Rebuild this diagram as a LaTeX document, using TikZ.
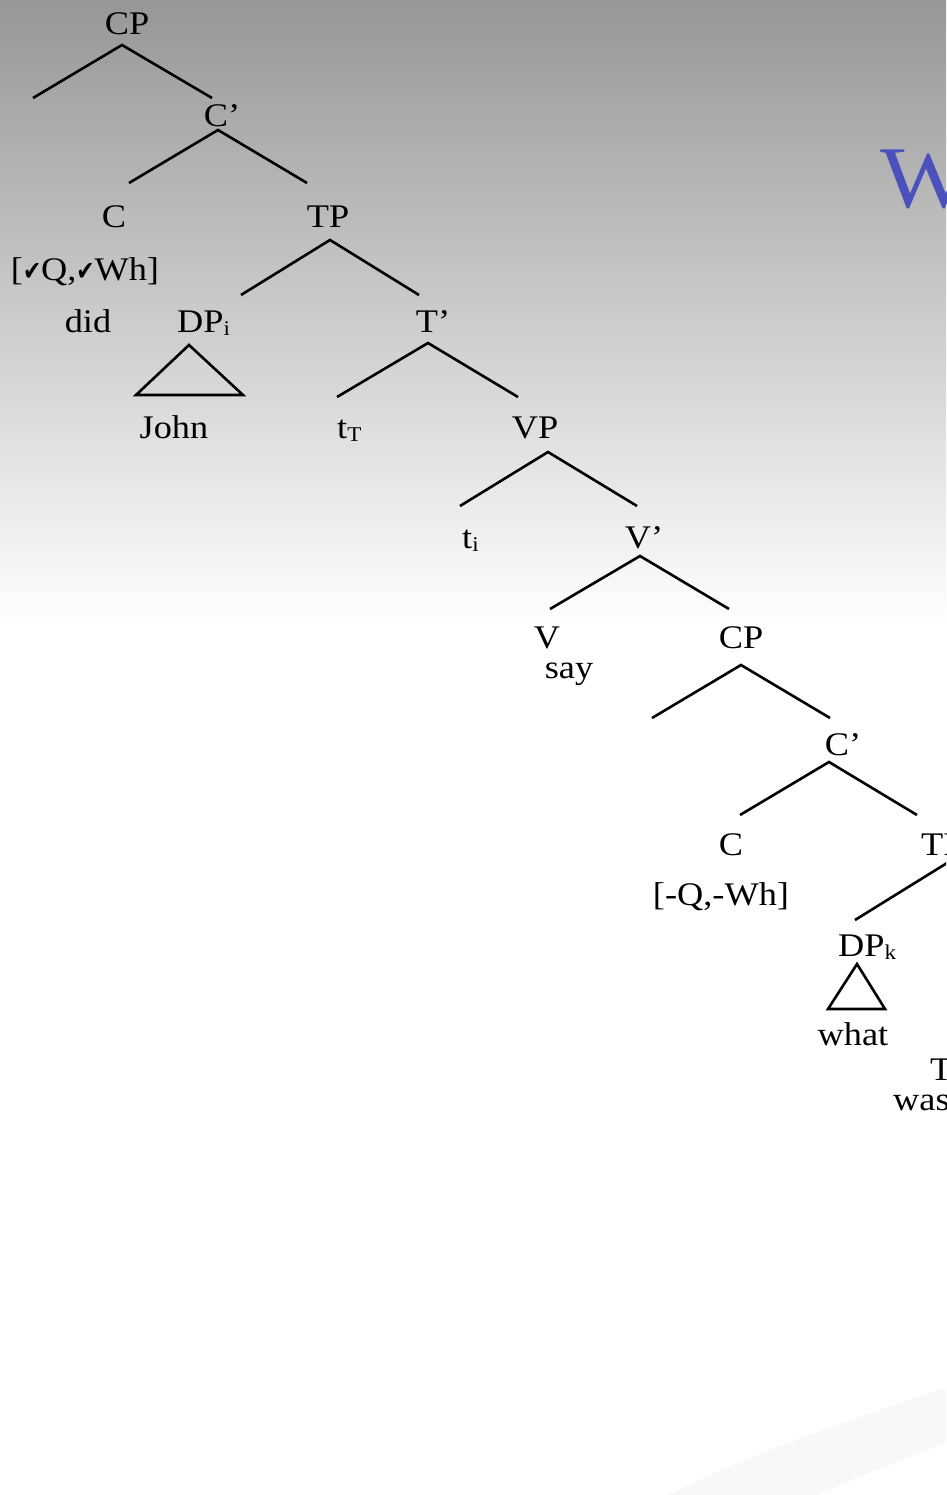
\documentclass[tikz,border=0pt]{standalone}
\usepackage{fontspec}
\setmainfont{Liberation Serif}[FakeStretch=1.1]
\newfontfamily\checkfont{DejaVu Sans}
\usetikzlibrary{positioning}

\definecolor{bgtop}{HTML}{979797}
\definecolor{swoosh}{HTML}{F8F8F8}
\definecolor{titleblue}{HTML}{4A50BC}

% heavy tick and lowered index
\newcommand{\yes}{\scalebox{0.8}[1]{\checkfont\fontsize{27}{27}\selectfont ✔}}
\newcommand{\idx}[1]{\raisebox{-3pt}{\fontsize{21}{21}\selectfont #1}}

\tikzset{
  lbl/.style={inner sep=0pt, anchor=base, font=\fontsize{33}{36}\selectfont},
  branch/.style={line width=2.6pt},
  title/.style={inner sep=0pt, anchor=base west, text=titleblue, font=\fontsize{88}{90}\selectfont},
}

\begin{document}
\begin{tikzpicture}[x=1pt, y=-1pt]
	\useasboundingbox (0,0) rectangle (946,1495);
	\clip (0,0) rectangle (946,1495);

	% slide background
	\fill [white] (0,0) rectangle (946,1495);
	\shade [top color=bgtop, bottom color=white] (0,0) rectangle (946,625);
	\fill [swoosh] (668,1495) .. controls (760,1450) and (850,1420) .. (946,1388) -- (946,1443) .. controls (900,1460) and (860,1476) .. (817,1495) -- cycle;

	% title, cut off at the right edge
	\node [title] (ttl) at (880,208) {W};

	% labels
	\node [lbl] (cp1) at (127,35) {CP};
	\node [lbl] (cb1) at (222,127) {C’};
	\node [lbl] (c1) at (114,228) {C};
	\node [lbl] (tp1) at (328,228) {TP};
	\node [lbl] (feat1) at (85,281) {[\yes Q,\yes Wh]};
	\node [lbl] (did) at (88,332) {did};
	\node [lbl, anchor=base west] (dpi) at (177,332) {DP\idx{i}};
	\node [lbl] (tb1) at (433,332) {T’};
	\node [lbl] (john) at (174,438) {John};
	\node [lbl, anchor=base west] (tt) at (337,438) {t\idx{T}};
	\node [lbl] (vp) at (535,438) {VP};
	\node [lbl, anchor=base west] (ti) at (462,548) {t\idx{i}};
	\node [lbl] (vb) at (644,548) {V’};
	\node [lbl] (v) at (547,648) {V};
	\node [lbl] (say) at (569,678) {say};
	\node [lbl] (cp2) at (741,648) {CP};
	\node [lbl] (cb2) at (843,755) {C’};
	\node [lbl] (c2) at (731,855) {C};
	\node [lbl, anchor=base west] (tp2) at (921,855) {TP};
	\node [lbl] (feat2) at (721,905) {[-Q,-Wh]};
	\node [lbl, anchor=base west] (dpk) at (838,956) {DP\idx{k}};
	\node [lbl] (what) at (853,1045) {what};
	\node [lbl, anchor=base west] (t2) at (930,1080) {T};
	\node [lbl, anchor=base west] (was) at (893,1110) {was};

	% branch points
	\coordinate (cp1-a) at (122,45);  \coordinate (cp1-l) at (33,98);   \coordinate (cp1-r) at (212,98);
	\coordinate (cb1-a) at (218,130); \coordinate (cb1-l) at (129,183); \coordinate (cb1-r) at (307,183);
	\coordinate (tp1-a) at (330,240); \coordinate (tp1-l) at (241,295); \coordinate (tp1-r) at (419,295);
	\coordinate (tb1-a) at (428,343); \coordinate (tb1-l) at (337,397); \coordinate (tb1-r) at (518,397);
	\coordinate (vp-a) at (548,452);  \coordinate (vp-l) at (460,506);  \coordinate (vp-r) at (637,506);
	\coordinate (vb-a) at (640,556);  \coordinate (vb-l) at (550,609);  \coordinate (vb-r) at (729,609);
	\coordinate (cp2-a) at (741,665); \coordinate (cp2-l) at (652,718); \coordinate (cp2-r) at (830,718);
	\coordinate (cb2-a) at (829,762); \coordinate (cb2-l) at (740,815); \coordinate (cb2-r) at (917,815);
	\coordinate (tp2-a) at (947,863); \coordinate (tp2-l) at (855,920);

	\draw [branch] (cp1-l) -- (cp1-a) -- (cp1-r);
	\draw [branch] (cb1-l) -- (cb1-a) -- (cb1-r);
	\draw [branch] (tp1-l) -- (tp1-a) -- (tp1-r);
	\draw [branch] (tb1-l) -- (tb1-a) -- (tb1-r);
	\draw [branch] (vp-l) -- (vp-a) -- (vp-r);
	\draw [branch] (vb-l) -- (vb-a) -- (vb-r);
	\draw [branch] (cp2-l) -- (cp2-a) -- (cp2-r);
	\draw [branch] (cb2-l) -- (cb2-a) -- (cb2-r);
	\draw [branch] (tp2-l) -- (tp2-a);

	% triangles over John and what
	\coordinate (tri1-a) at (189,345); \coordinate (tri1-l) at (136,395); \coordinate (tri1-r) at (243,395);
	\coordinate (tri2-a) at (857,964); \coordinate (tri2-l) at (828,1009); \coordinate (tri2-r) at (885,1009);
	\draw [branch] (tri1-a) -- (tri1-l) -- (tri1-r) -- cycle;
	\draw [branch] (tri2-a) -- (tri2-l) -- (tri2-r) -- cycle;
\end{tikzpicture}
\end{document}
